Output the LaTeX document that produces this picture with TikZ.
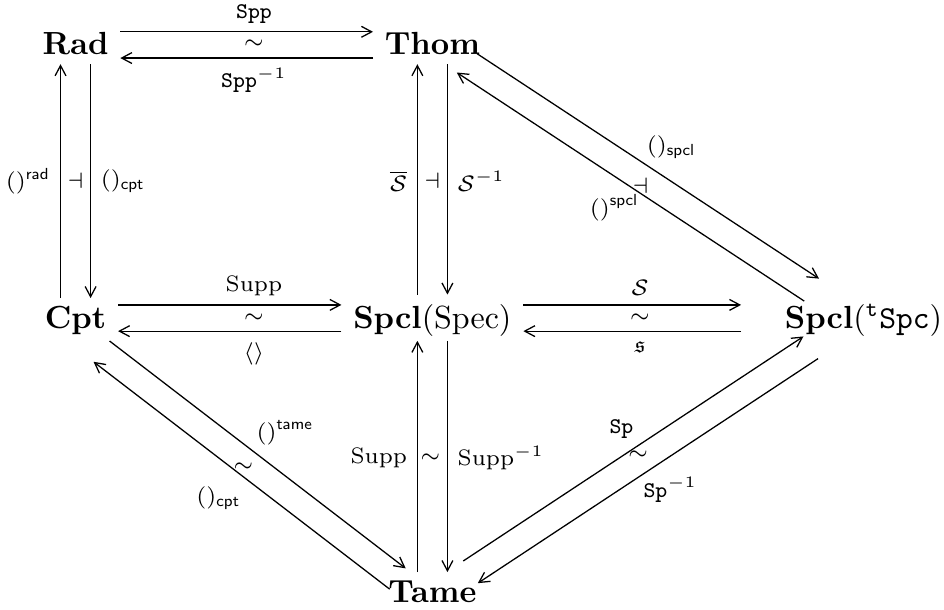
\documentclass[tikz,border=0pt]{standalone}
\usepackage{amsmath}
\usepackage{amssymb}
\usepackage{tikz}
\usetikzlibrary{arrows.meta,positioning,calc}

\begin{document}
\begin{tikzpicture}[x=1cm,y=1cm,
  obj/.style={inner xsep=3.5pt,inner ysep=2.7pt,text height=1.5ex,text depth=0pt},
  lbl/.style={font=\scriptsize,inner sep=1pt},
  map/.style={-{Straight Barb[length=3.2pt,width=3.4pt]},line width=0.4pt}]
  \useasboundingbox (0,0) rectangle (10.37,-6.70);
  % objects
  \node[obj] (rad) at (0.83,-0.49) {$\mathbf{Rad}$};
  \node[obj] (thom) at (4.75,-0.49) {$\mathbf{Thom}$};
  \node[obj] (cpt) at (0.83,-3.49) {$\mathbf{Cpt}$};
  \node[obj,inner ysep=3.8pt] (spec) at (4.75,-3.49) {$\mathbf{Spcl}(\mathrm{Spec})$};
  \node[obj] (spclt) at (9.31,-3.49) {$\quad\mathbf{Spcl}({}^{\mathtt{t}}\mathtt{Spc})$};
  \node[obj] (tame) at (4.75,-6.50) {$\mathbf{Tame}$};
  % Rad -- Thom
  \draw[map,transform canvas={yshift=4pt}] (rad) -- (thom);
  \draw[map,transform canvas={yshift=-4.2pt}] (thom) -- (rad);
  \node[lbl,above=5.4pt] (lspp) at ($(rad)!0.5!(thom)$) {$\mathtt{Spp}$};
  \node[lbl] (lrt) at ($(rad)!0.5!(thom)$) {$\sim$};
  \node[lbl,below=6pt] (lsppinv) at ($(rad)!0.5!(thom)$) {$\mathtt{Spp}^{-1}$};
  % Cpt -- Spcl(Spec)
  \draw[map,transform canvas={yshift=4pt}] (cpt) -- (spec);
  \draw[map,transform canvas={yshift=-4.2pt}] (spec) -- (cpt);
  \node[lbl,above=5.6pt] (lsupp) at ($(cpt)!0.5!(spec)$) {$\mathrm{Supp}$};
  \node[lbl] (lcs) at ($(cpt)!0.5!(spec)$) {$\sim$};
  \node[lbl,below=6.5pt] (lbr) at ($(cpt)!0.5!(spec)$) {$\langle\rangle$};
  % Spcl(Spec) -- Spcl(tSpc)
  \draw[map,transform canvas={yshift=4pt}] (spec) -- (spclt);
  \draw[map,transform canvas={yshift=-4.2pt}] (spclt) -- (spec);
  \node[lbl,above=5.6pt] (lcal) at ($(spec)!0.5!(spclt)$) {$\mathcal{S}$};
  \node[lbl] (lss) at ($(spec)!0.5!(spclt)$) {$\sim$};
  \node[lbl,below=6.5pt] (lfrak) at ($(spec)!0.5!(spclt)$) {$\mathfrak{s}$};
  % Rad -- Cpt
  \draw[map,transform canvas={xshift=-4.7pt}] (cpt) -- (rad);
  \draw[map,transform canvas={xshift=4.7pt}] (rad) -- (cpt);
  \node[lbl,left=6.7pt] (lrad) at ($(rad)!0.5!(cpt)$) {$()^{\mathsf{rad}}$};
  \node[lbl] (ladja) at ($(rad)!0.5!(cpt)$) {$\dashv$};
  \node[lbl,right=6.7pt] (lcpta) at ($(rad)!0.5!(cpt)$) {$()_{\mathsf{cpt}}$};
  % Thom -- Spcl(Spec)
  \draw[map,transform canvas={xshift=-4.7pt}] (spec) -- (thom);
  \draw[map,transform canvas={xshift=4.7pt}] (thom) -- (spec);
  \node[lbl,left=6.7pt] (lbar) at ($(thom)!0.5!(spec)$) {$\overline{\mathcal{S}}$};
  \node[lbl] (ladjb) at ($(thom)!0.5!(spec)$) {$\dashv$};
  \node[lbl,right=6.7pt] (lcalinv) at ($(thom)!0.5!(spec)$) {$\mathcal{S}^{-1}$};
  % Spcl(Spec) -- Tame
  \draw[map,transform canvas={xshift=-4.7pt}] (tame) -- (spec);
  \draw[map,transform canvas={xshift=4.7pt}] (spec) -- (tame);
  \node[lbl,left=6.7pt,yshift=-1pt] (lsuppb) at ($(spec)!0.5!(tame)$) {$\mathrm{Supp}$};
  \node[lbl,xshift=-0.6pt,yshift=-1pt] (lst) at ($(spec)!0.5!(tame)$) {$\sim$};
  \node[lbl,right=6.7pt,yshift=-1pt] (lsuppinv) at ($(spec)!0.5!(tame)$) {$\mathrm{Supp}^{-1}$};
  % Thom -- Spcl(tSpc)
  \draw[map,shorten <=2pt,shorten >=3pt,transform canvas={shift={(2.91pt,4.43pt)}}] (thom) -- (spclt);
  \draw[map,shorten <=3pt,transform canvas={shift={(-1.7pt,-2.59pt)}}] (spclt) -- (thom);
  \node[lbl,xshift=9.8pt,yshift=10.7pt] (lspcl) at ($(thom)!0.5!(spclt)$) {$()_{\mathsf{spcl}}$};
  \node[lbl,xshift=0.2pt,yshift=-1.5pt] (ladjc) at ($(thom)!0.5!(spclt)$) {$\dashv$};
  \node[lbl,xshift=-8pt,yshift=-8.4pt] (lspclup) at ($(thom)!0.5!(spclt)$) {$()^{\mathsf{spcl}}$};
  % Cpt -- Tame
  \draw[map,shorten <=2.8pt,shorten >=1pt,transform canvas={shift={(0.43pt,0.55pt)}}] (cpt) -- (tame);
  \draw[map,shorten <=1pt,shorten >=2.8pt,transform canvas={shift={(-4.58pt,-5.94pt)}}] (tame) -- (cpt);
  \node[lbl,xshift=9.7pt,yshift=6.8pt] (ltame) at ($(cpt)!0.5!(tame)$) {$()^{\mathsf{tame}}$};
  \node[lbl,xshift=-3.3pt,yshift=-3.75pt] (lct) at ($(cpt)!0.5!(tame)$) {$\sim$};
  \node[lbl,xshift=-11.1pt,yshift=-13.5pt] (lcptb) at ($(cpt)!0.5!(tame)$) {$()_{\mathsf{cpt}}$};
  % Tame -- Spcl(tSpc)
  \draw[map,shorten <=2.2pt,shorten >=3.6pt,transform canvas={shift={(-1.48pt,2.26pt)}}] (tame) -- (spclt);
  \draw[map,shorten <=3.6pt,shorten >=2.2pt,transform canvas={shift={(3.07pt,-4.68pt)}}] (spclt) -- (tame);
  \node[lbl,xshift=-5.8pt,yshift=8pt] (lsp) at ($(tame)!0.5!(spclt)$) {$\mathtt{Sp}$};
  \node[lbl,xshift=-0.6pt] (lts) at ($(tame)!0.5!(spclt)$) {$\sim$};
  \node[lbl,xshift=9.5pt,yshift=-11pt] (lspinv) at ($(tame)!0.5!(spclt)$) {$\mathtt{Sp}^{-1}$};
\end{tikzpicture}
\end{document}
